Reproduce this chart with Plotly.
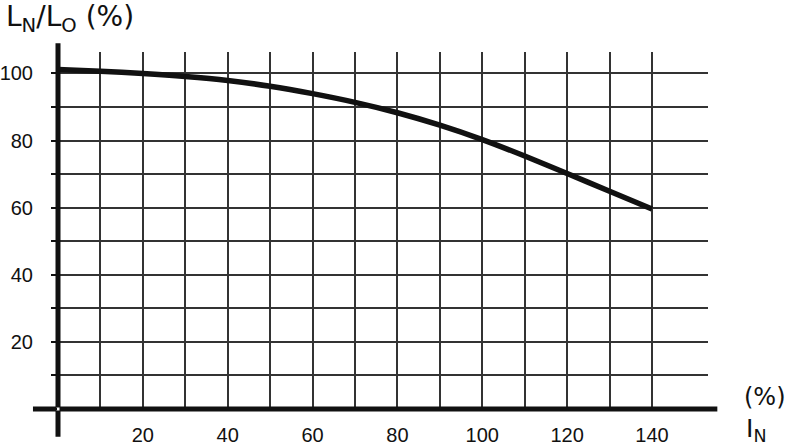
import plotly.graph_objects as go

# Data
current_pct = [0, 10, 20, 30, 40, 50, 60, 70, 80, 90, 100, 110, 120, 130, 140]
inductance_pct = [101.2, 100.7, 100.0, 99.1, 97.9, 96.2, 94.0, 91.4, 88.3, 84.6, 80.3, 75.4, 70.2, 64.9, 59.6]

x_ticks = list(range(0, 150, 10))
x_tick_text = ["" if (v == 0 or v % 20) else str(v) for v in x_ticks]
y_ticks = list(range(0, 110, 10))
y_tick_text = ["" if (v == 0 or v % 20) else str(v) for v in y_ticks]

X_RANGE = [0, 153.2]
Y_RANGE = [0, 106.4]
X_ARROW_END, X_STUB = 158.4, -5.9
Y_ARROW_END, Y_STUB = 113.0, -8.3

FONT = "Liberation Sans, Arial, sans-serif"
TITLE_FONT = "DejaVu Sans, sans-serif"
GRID = "#333333"

fig = go.Figure()

fig.add_trace(go.Scatter(
    x=current_pct, y=inductance_pct, mode="lines",
    line=dict(color="#111111", width=5.5, shape="spline", smoothing=0.8),
    hoverinfo="skip", showlegend=False,
))

# arrow heads on the axes
fig.add_trace(go.Scatter(
    x=[0, X_ARROW_END], y=[Y_ARROW_END, 0], mode="markers",
    marker=dict(symbol=["arrow-up", "arrow-right"], size=[18, 22], color="#111111",
                line=dict(width=0)),
    cliponaxis=False, hoverinfo="skip", showlegend=False,
))

axis_line = dict(showarrow=True, arrowhead=0, arrowwidth=5, arrowcolor="#111111",
                 text="", xref="x", yref="y", axref="x", ayref="y", ax=0, ay=0)
fig.add_annotation(x=0, y=Y_ARROW_END - 4, **axis_line)
fig.add_annotation(x=0, y=Y_STUB, **axis_line)
fig.add_annotation(x=X_ARROW_END - 3, y=0, **axis_line)
fig.add_annotation(x=X_STUB, y=0, **axis_line)

fig.add_annotation(text="L<sub>N</sub>/L<sub>O</sub> (%)", xref="paper", yref="paper",
                   x=-0.083, y=1.152, xanchor="left", yanchor="top", showarrow=False,
                   font=dict(family=TITLE_FONT, size=28, color="#111111"))
fig.add_annotation(text="(%)", xref="paper", yref="paper",
                   x=1.052, y=0.034, xanchor="left", yanchor="middle", showarrow=False,
                   font=dict(family=TITLE_FONT, size=24, color="#111111"))
fig.add_annotation(text="I<sub>N</sub>", xref="paper", yref="paper",
                   x=1.055, y=-0.06, xanchor="left", yanchor="middle", showarrow=False,
                   font=dict(family=TITLE_FONT, size=25, color="#111111"))

fig.update_xaxes(range=X_RANGE, tickvals=x_ticks, ticktext=x_tick_text,
                 showgrid=True, gridcolor=GRID, gridwidth=2, zeroline=False,
                 showline=False, ticks="", ticklabelstandoff=12,
                 tickfont=dict(family=FONT, size=20, color="#111111"),
                 automargin=False, fixedrange=True)
fig.update_yaxes(range=Y_RANGE, tickvals=y_ticks, ticktext=y_tick_text,
                 showgrid=True, gridcolor=GRID, gridwidth=2, zeroline=False,
                 showline=False, ticks="outside", ticklen=6, tickwidth=2, tickcolor="#111111",
                 ticklabelstandoff=14,
                 tickfont=dict(family=FONT, size=20, color="#111111"),
                 automargin=False, fixedrange=True)

fig.update_layout(
    width=790, height=446,
    margin=dict(l=58, r=82, t=52, b=37, pad=0),
    paper_bgcolor="white", plot_bgcolor="white",
    showlegend=False,
)

fig.write_html("out.html", config={"displayModeBar": False},
               post_script="document.body.style.margin='0';document.body.style.overflow='hidden';")
